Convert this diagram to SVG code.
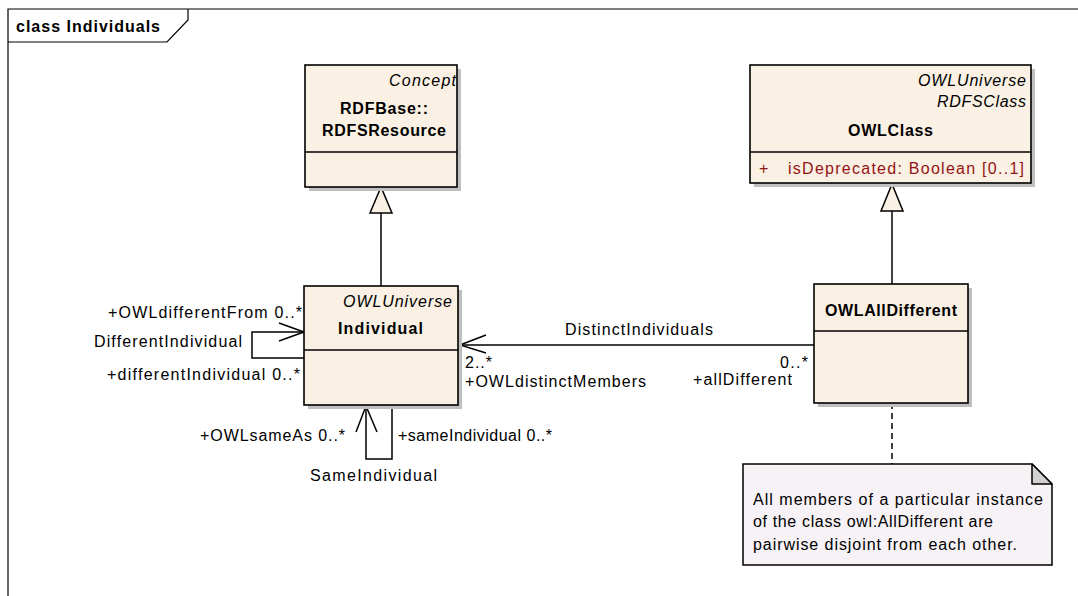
<svg xmlns="http://www.w3.org/2000/svg" width="1078" height="596" viewBox="0 0 1078 596">
  <defs>
    <style>
      .frame { fill: none; stroke: #000; stroke-width: 1.2; }
      .shadow { fill: #bfbfbf; stroke: none; }
      .cls { fill: #faf0e3; stroke: #000; stroke-width: 1.6; }
      .sep { stroke: #000; stroke-width: 1.6; }
      .line { fill: none; stroke: #000; stroke-width: 1.5; }
      .dash { fill: none; stroke: #000; stroke-width: 1.5; stroke-dasharray: 6 4; }
      .gen { fill: #faf0e3; stroke: #000; stroke-width: 1.5; }
      .note { fill: #f6f2f6; stroke: #000; stroke-width: 1.5; }
      .fold { fill: #d3d0d4; stroke: #000; stroke-width: 1.5; stroke-linejoin: round; }
      text { font-family: "Liberation Sans", Arial, sans-serif; font-size: 16px; fill: #000; }
      .b { font-weight: bold; }
      .i { font-style: italic; }
      .attr { fill: #941414; }
    </style>
  </defs>

  <rect width="1078" height="596" fill="#ffffff"/>

  <!-- diagram frame with its name tab -->
  <g id="frame">
    <path class="frame" d="M8,596 V9 H1078"/>
    <path class="frame" d="M8,42 H167 L188,20 V9"/>
    <text class="b" x="16" y="32" textLength="144">class Individuals</text>
  </g>

  <!-- connectors -->
  <g id="connectors">
    <!-- Individual generalises RDFSResource -->
    <line class="line" x1="381" y1="213" x2="381" y2="286"/>
    <polygon class="gen" points="381,187 370,213 392,213"/>
    <!-- OWLAllDifferent generalises OWLClass -->
    <line class="line" x1="892" y1="211" x2="892" y2="284"/>
    <polygon class="gen" points="892,184 881,211 903,211"/>

    <!-- DifferentIndividual self association -->
    <path class="line" d="M304,332 H252 V358 H304"/>
    <path class="line" d="M279,323 L304,332 L279,341"/>

    <!-- SameIndividual self association -->
    <path class="line" d="M366,405 V459 H392 V405"/>
    <path class="line" d="M356,432 L366,406 L377,432"/>

    <!-- DistinctIndividuals association -->
    <line class="line" x1="459" y1="345" x2="814" y2="345"/>
    <path class="line" d="M486,335 L460,345 L486,353"/>

    <!-- note anchor -->
    <line class="dash" x1="892" y1="403" x2="892" y2="464"/>

    <text x="108" y="318" textLength="194">+OWLdifferentFrom 0..*</text>
    <text x="94" y="347" textLength="148">DifferentIndividual</text>
    <text x="107" y="380" textLength="193">+differentIndividual 0..*</text>

    <text x="200" y="441" textLength="145">+OWLsameAs 0..*</text>
    <text x="398" y="441" textLength="154">+sameIndividual 0..*</text>
    <text x="310" y="481" textLength="127">SameIndividual</text>

    <text x="565" y="335" textLength="148">DistinctIndividuals</text>
    <text x="465" y="368" textLength="27">2..*</text>
    <text x="465" y="387" textLength="181">+OWLdistinctMembers</text>
    <text x="780" y="368" textLength="28">0..*</text>
    <text x="693" y="385" textLength="99">+allDifferent</text>
  </g>

  <!-- RDFBase::RDFSResource -->
  <g id="rdfsresource">
    <rect class="shadow" x="309" y="69" width="152" height="122"/>
    <rect class="cls" x="305" y="65" width="152" height="122"/>
    <line class="sep" x1="305" y1="152" x2="457" y2="152"/>
    <text class="i" x="389" y="86" textLength="67">Concept</text>
    <text class="b" x="340" y="114" textLength="88">RDFBase::</text>
    <text class="b" x="322" y="136" textLength="124">RDFSResource</text>
  </g>

  <!-- OWLClass -->
  <g id="owlclass">
    <rect class="shadow" x="754" y="69" width="281" height="118"/>
    <rect class="cls" x="750" y="65" width="281" height="118"/>
    <line class="sep" x1="750" y1="152" x2="1031" y2="152"/>
    <text class="i" x="918" y="86" textLength="108">OWLUniverse</text>
    <text class="i" x="937" y="107" textLength="89">RDFSClass</text>
    <text class="b" x="848" y="136" textLength="85">OWLClass</text>
    <text class="attr" x="759" y="174">+</text>
    <text class="attr" x="788" y="174" textLength="236">isDeprecated:  Boolean [0..1]</text>
  </g>

  <!-- Individual -->
  <g id="individual">
    <rect class="shadow" x="308" y="290" width="154" height="119"/>
    <rect class="cls" x="304" y="286" width="154" height="119"/>
    <line class="sep" x1="304" y1="350" x2="458" y2="350"/>
    <text class="i" x="343" y="307" textLength="109">OWLUniverse</text>
    <text class="b" x="338" y="334" textLength="85">Individual</text>
  </g>

  <!-- OWLAllDifferent -->
  <g id="owlalldifferent">
    <rect class="shadow" x="818" y="288" width="154" height="119"/>
    <rect class="cls" x="814" y="284" width="154" height="119"/>
    <line class="sep" x1="814" y1="331" x2="968" y2="331"/>
    <text class="b" x="825" y="316" textLength="132">OWLAllDifferent</text>
  </g>

  <!-- explanatory note -->
  <g id="note">
    <path class="note" d="M743,464 H1032 L1052,484 V565 H743 Z"/>
    <path class="fold" d="M1032,464 V484 H1052 Z"/>
    <text x="753" y="505" textLength="290">All members of a particular instance</text>
    <text x="753" y="527" textLength="240">of the class owl:AllDifferent are</text>
    <text x="753" y="550" textLength="264">pairwise disjoint from each other.</text>
  </g>
</svg>
